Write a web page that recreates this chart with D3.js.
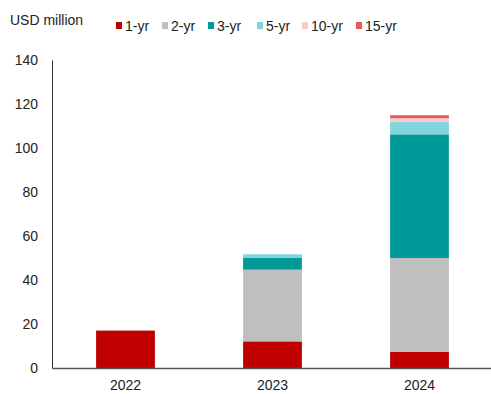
<!DOCTYPE html>
<html>
<head>
<meta charset="utf-8">
<script src="https://cdn.jsdelivr.net/npm/d3@7"></script>
<style>
  body { margin: 0; background: #fff; }
  text { font-family: "Liberation Sans", Arial, sans-serif; fill: #222; }
</style>
</head>
<body>
<svg id="drawing_region"></svg>
<script>
const years = [ "2022", "2023", "2024" ];
const tenors = [ "1-yr", "2-yr", "3-yr", "5-yr", "10-yr", "15-yr" ];
const colors = [ "#c00000", "#bfbfbf", "#009999", "#80d4dd", "#f9cccc", "#e85a5a" ];
const values = {
    "1-yr":  [ 17.0, 12.1, 7.4 ],
    "2-yr":  [ 0, 32.6, 42.6 ],
    "3-yr":  [ 0, 5.3, 56.2 ],
    "5-yr":  [ 0, 1.7, 5.8 ],
    "10-yr": [ 0, 0, 1.5 ],
    "15-yr": [ 0, 0, 1.4 ]
};
const yticks = [ 0, 20, 40, 60, 80, 100, 120, 140 ];

const width = 491, height = 394;
const margin = { top: 60, right: -2, bottom: 26, left: 52 };
const inner_width = width - margin.left - margin.right;
const inner_height = height - margin.top - margin.bottom;

const svg = d3.select( "#drawing_region" )
    .attr( "width", width )
    .attr( "height", height );

const chart = svg.append( "g" )
    .attr( "transform", `translate(${margin.left}, ${margin.top})` );

const table = years.map( ( y, i ) => {
    const row = { year: y };
    tenors.forEach( t => { row[t] = values[t][i]; } );
    return row;
});

const series = d3.stack().keys( tenors )( table );

const xscale = d3.scaleBand()
    .domain( years )
    .range( [ 0, inner_width ] )
    .paddingInner( 0.6 )
    .paddingOuter( 0.3 );

const yscale = d3.scaleLinear()
    .domain( [ 0, 140 ] )
    .range( [ inner_height, 0 ] );

const color = d3.scaleOrdinal().domain( tenors ).range( colors );

chart.selectAll( "g.layer" )
    .data( series )
    .join( "g" )
    .attr( "class", "layer" )
    .attr( "fill", d => color( d.key ) )
    .selectAll( "rect" )
    .data( d => d )
    .join( "rect" )
    .attr( "x", d => xscale( d.data.year ) )
    .attr( "y", d => yscale( d[1] ) )
    .attr( "width", xscale.bandwidth() )
    .attr( "height", d => yscale( d[0] ) - yscale( d[1] ) );

// axes
const yaxis = d3.axisLeft( yscale ).tickValues( yticks ).tickSize( 0 ).tickPadding( 14 );
const yg = chart.append( "g" ).call( yaxis );
yg.select( ".domain" ).attr( "stroke", "#333" );
yg.selectAll( "text" ).attr( "font-size", 14 ).style( "fill", "#222" )
    .attr( "font-family", "Liberation Sans, Arial, sans-serif" );

const xaxis = d3.axisBottom( xscale ).tickSize( 0 ).tickPadding( 12 );
const xg = chart.append( "g" )
    .attr( "transform", `translate(0, ${inner_height})` )
    .call( xaxis );
xg.select( ".domain" ).attr( "stroke", "#555" ).attr( "stroke-width", 1.5 );
xg.selectAll( "text" ).attr( "font-size", 14 ).style( "fill", "#222" )
    .attr( "font-family", "Liberation Sans, Arial, sans-serif" );

// unit label
svg.append( "text" )
    .attr( "x", 10 )
    .attr( "y", 25 )
    .attr( "font-size", 14 )
    .text( "USD million" );

// legend
const legend_x = [ 116, 162, 208, 257, 302, 356 ];
const legend = svg.selectAll( "g.legend" )
    .data( tenors )
    .join( "g" )
    .attr( "class", "legend" )
    .attr( "transform", ( d, i ) => `translate(${legend_x[i]}, 26)` );

legend.append( "rect" )
    .attr( "x", 0 )
    .attr( "y", -4 )
    .attr( "width", 6 )
    .attr( "height", 7 )
    .attr( "fill", d => color( d ) );

legend.append( "text" )
    .attr( "x", 9 )
    .attr( "y", 5 )
    .attr( "font-size", 14 )
    .text( d => d );
</script>
</body>
</html>
